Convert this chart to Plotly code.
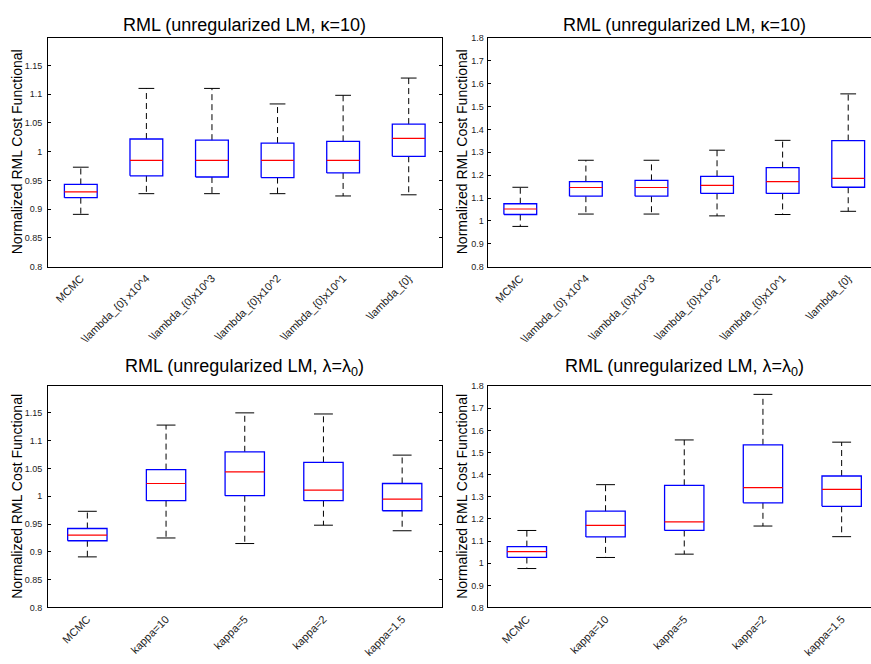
import plotly.graph_objects as go

W, H = 871, 664

TITLE_KAPPA = "RML (unregularized LM, κ=10)"
TITLE_LAMBDA = "RML (unregularized LM, λ=λ<sub>0</sub>)"
Y_TITLE = "Normalized RML Cost Functional"

lambda_labels = ["MCMC", "\\lambda_{0} x10^4", "\\lambda_{0}x10^3",
                 "\\lambda_{0}x10^2", "\\lambda_{0}x10^1", "\\lambda_{0}"]
kappa_labels = ["MCMC", "kappa=10", "kappa=5", "kappa=2", "kappa=1.5"]

# Box statistics: lower whisker, Q1, median, Q3, upper whisker
# Panel A: lambda sweep, narrow scale
a_lower = [0.891, 0.927, 0.927, 0.927, 0.923, 0.925]
a_q1 = [0.920, 0.958, 0.956, 0.955, 0.963, 0.992]
a_median = [0.930, 0.985, 0.985, 0.985, 0.985, 1.023]
a_q3 = [0.943, 1.022, 1.020, 1.015, 1.018, 1.048]
a_upper = [0.973, 1.110, 1.110, 1.083, 1.098, 1.128]

# Panel B: lambda sweep, wide scale
b_lower = [0.976, 1.030, 1.030, 1.022, 1.028, 1.042]
b_q1 = [1.028, 1.108, 1.108, 1.120, 1.120, 1.147]
b_median = [1.052, 1.146, 1.146, 1.155, 1.172, 1.186]
b_q3 = [1.075, 1.172, 1.177, 1.195, 1.233, 1.351]
b_upper = [1.147, 1.265, 1.265, 1.309, 1.352, 1.555]

# Panel C: kappa sweep, narrow scale
c_lower = [0.891, 0.925, 0.915, 0.948, 0.938]
c_q1 = [0.920, 0.992, 1.001, 0.992, 0.974]
c_median = [0.930, 1.023, 1.044, 1.011, 0.995]
c_q3 = [0.942, 1.048, 1.080, 1.061, 1.023]
c_upper = [0.973, 1.128, 1.150, 1.148, 1.074]

# Panel D: kappa sweep, wide scale
d_lower = [0.976, 1.026, 1.041, 1.168, 1.120]
d_q1 = [1.026, 1.119, 1.148, 1.273, 1.257]
d_median = [1.052, 1.171, 1.187, 1.342, 1.334]
d_q3 = [1.075, 1.235, 1.352, 1.535, 1.394]
d_upper = [1.148, 1.355, 1.557, 1.763, 1.547]

narrow_ticks = [0.8, 0.85, 0.9, 0.95, 1.0, 1.05, 1.1, 1.15]
narrow_text = ["0.8", "0.85", "0.9", "0.95", "1", "1.05", "1.1", "1.15"]
wide_ticks = [0.8, 0.9, 1.0, 1.1, 1.2, 1.3, 1.4, 1.5, 1.6, 1.7, 1.8]
wide_text = ["0.8", "0.9", "1", "1.1", "1.2", "1.3", "1.4", "1.5", "1.6", "1.7", "1.8"]

BOX_HALF = 0.25
CAP_HALF = 0.12

FONT = "Liberation Sans, Arial, Helvetica, sans-serif"

fig = go.Figure()


def add_panel(n, lower, q1, med, q3, upper):
    xa = "x" if n == 1 else f"x{n}"
    ya = "y" if n == 1 else f"y{n}"
    bx, by, wx, wy, cx, cy, mx, my = [], [], [], [], [], [], [], []
    for i in range(len(med)):
        c = i + 1
        bx += [c - BOX_HALF, c + BOX_HALF, c + BOX_HALF, c - BOX_HALF, c - BOX_HALF, None]
        by += [q1[i], q1[i], q3[i], q3[i], q1[i], None]
        wx += [c, c, None, c, c, None]
        wy += [q3[i], upper[i], None, q1[i], lower[i], None]
        cx += [c - CAP_HALF, c + CAP_HALF, None, c - CAP_HALF, c + CAP_HALF, None]
        cy += [upper[i], upper[i], None, lower[i], lower[i], None]
        mx += [c - BOX_HALF, c + BOX_HALF, None]
        my += [med[i], med[i], None]
    common = dict(mode="lines", xaxis=xa, yaxis=ya, hoverinfo="skip", showlegend=False)
    fig.add_trace(go.Scatter(x=wx, y=wy, line=dict(color="black", width=1, dash="6px,4px"), **common))
    fig.add_trace(go.Scatter(x=cx, y=cy, line=dict(color="black", width=1), **common))
    fig.add_trace(go.Scatter(x=bx, y=by, line=dict(color="#0000ff", width=1.3), **common))
    fig.add_trace(go.Scatter(x=mx, y=my, line=dict(color="#ff0000", width=1.2), **common))


add_panel(1, a_lower, a_q1, a_median, a_q3, a_upper)
add_panel(2, b_lower, b_q1, b_median, b_q3, b_upper)
add_panel(3, c_lower, c_q1, c_median, c_q3, c_upper)
add_panel(4, d_lower, d_q1, d_median, d_q3, d_upper)

# Plot-area geometry in pixels
L_LEFT, L_RIGHT = 48.0, 441.5
R_LEFT = 487.5
TOP_T, TOP_B = 33.3, 265.7
BOT_T, BOT_B = 387.0, 611.7


def px_x(v):
    return v / W


def px_y(v):
    return 1 - v / H


ytick_font = dict(family=FONT, size=9, color="#222222")
xtick_font = dict(family=FONT, size=11, color="#222222")


def xaxis(labels, domain, rng):
    return dict(domain=domain, range=rng, tickvals=list(range(1, len(labels) + 1)),
                ticktext=labels, tickangle=-45, ticks="", showline=True, linecolor="black",
                linewidth=1, mirror=True, showgrid=False, zeroline=False, tickfont=xtick_font,
                fixedrange=True)


def yaxis(domain, rng, tv, tt, anchor, mirror, standoff):
    return dict(domain=domain, range=rng, tickvals=tv, ticktext=tt, ticks="inside",
                ticklen=3, tickcolor="black", showline=True, linecolor="black", linewidth=1,
                mirror=mirror, showgrid=False, zeroline=False, tickfont=ytick_font,
                anchor=anchor, ticklabelstandoff=standoff)


# right-hand panels run past the page edge
r_top_end = 0.5 + (W - R_LEFT) / ((L_RIGHT - L_LEFT) / 6)
r_bot_end = 0.5 + (W - R_LEFT) / ((L_RIGHT - L_LEFT) / 5)

dl = [px_x(L_LEFT), px_x(L_RIGHT)]
dr = [px_x(R_LEFT), 1.0]
dt = [px_y(TOP_B), px_y(TOP_T)]
db = [px_y(BOT_B), px_y(BOT_T)]

fig.update_layout(
    width=W, height=H, margin=dict(l=0, r=0, t=0, b=0),
    paper_bgcolor="white", plot_bgcolor="white",
    font=dict(family=FONT, color="black"),
    xaxis=dict(xaxis(lambda_labels, dl, [0.5, 6.5]), anchor="y"),
    yaxis=yaxis(dt, [0.8, 1.198], narrow_ticks, narrow_text, "x", "ticks", 3),
    xaxis2=dict(xaxis(lambda_labels, dr, [0.5, r_top_end]), anchor="y2"),
    yaxis2=yaxis(dt, [0.8, 1.8], wide_ticks, wide_text, "x2", False, 1),
    xaxis3=dict(xaxis(kappa_labels, dl, [0.5, 5.5]), anchor="y3"),
    yaxis3=yaxis(db, [0.8, 1.198], narrow_ticks, narrow_text, "x3", "ticks", 3),
    xaxis4=dict(xaxis(kappa_labels, dr, [0.5, r_bot_end]), anchor="y4"),
    yaxis4=yaxis(db, [0.8, 1.8], wide_ticks, wide_text, "x4", False, 1),
)

title_font = dict(family=FONT, size=18, color="black")
ytitle_font = dict(family=FONT, size=14, color="black")

panel_w = L_RIGHT - L_LEFT
left_cx = (dl[0] + dl[1]) / 2
right_cx = px_x(R_LEFT + panel_w / 2)

annotations = [
    dict(text=TITLE_KAPPA, x=left_cx, y=px_y(20), font=title_font),
    dict(text=TITLE_KAPPA, x=right_cx, y=px_y(20), font=title_font),
    dict(text=TITLE_LAMBDA, x=left_cx, y=px_y(368), font=title_font),
    dict(text=TITLE_LAMBDA, x=right_cx, y=px_y(368), font=title_font),
    dict(text=Y_TITLE, x=px_x(17), y=(dt[0] + dt[1]) / 2, textangle=-90, font=ytitle_font),
    dict(text=Y_TITLE, x=px_x(462), y=(dt[0] + dt[1]) / 2, textangle=-90, font=ytitle_font),
    dict(text=Y_TITLE, x=px_x(17), y=(db[0] + db[1]) / 2, textangle=-90, font=ytitle_font),
    dict(text=Y_TITLE, x=px_x(462), y=(db[0] + db[1]) / 2, textangle=-90, font=ytitle_font),
]
for a in annotations:
    a.update(xref="paper", yref="paper", showarrow=False, xanchor="center", yanchor="middle")
fig.update_layout(annotations=annotations)

fig.write_html("out.html")
